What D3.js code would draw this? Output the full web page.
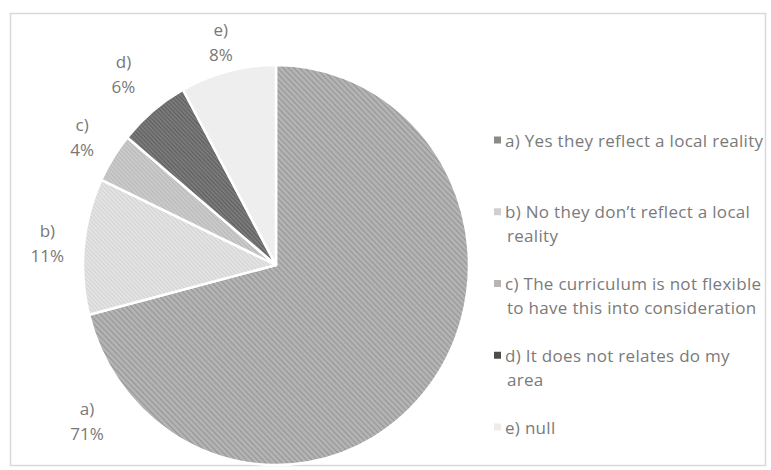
<!DOCTYPE html>
<html>
<head>
<meta charset="utf-8">
<script src="https://cdn.jsdelivr.net/npm/d3@7"></script>
<style>
  html, body { margin: 0; padding: 0; background: #fff; }
  svg { display: block; }
  text { font-family: "Open Sans", sans-serif; }
</style>
</head>
<body>
<svg id="chart" width="771" height="470"></svg>
<script>
// Survey answers: do the contents reflect a local reality?
const categories = ["a)", "b)", "c)", "d)", "e)"];
const legendLabels = [
  "a) Yes they reflect a local reality",
  "b) No they don\u2019t reflect a local\nreality",
  "c) The curriculum is not flexible\nto have this into consideration",
  "d) It does not relates do my\narea",
  "e) null"
];
const shares = [71, 11, 4, 6, 8];

const width = 771, height = 470;
const svg = d3.select("#chart");

// Hatched fills, one per answer
const defs = svg.append("defs");
const fills = [
  { id: "pa", base: "#b3b3b3", line: "#878787", size: 4, w: 1.4 },
  { id: "pb", base: "#e3e3e3", line: "#c4c4c4", size: 3, w: 1 },
  { id: "pc", base: "#cacaca", line: "#a9a9a9", size: 3, w: 1 },
  { id: "pd", base: "#7a7a7a", line: "#4d4d4d", size: 3, w: 1.2 },
  { id: "pe", base: "#efefef", line: "#e8e8e8", size: 3, w: 0.8 }
];
fills.forEach(f => {
  const p = defs.append("pattern")
    .attr("id", f.id)
    .attr("patternUnits", "userSpaceOnUse")
    .attr("width", f.size).attr("height", f.size)
    .attr("patternTransform", "rotate(-45)");
  p.append("rect").attr("width", f.size).attr("height", f.size).attr("fill", f.base);
  p.append("line").attr("x1", 0).attr("y1", 0).attr("x2", 0).attr("y2", f.size)
    .attr("stroke", f.line).attr("stroke-width", f.w);
});

// Chart frame
svg.append("rect")
  .attr("x", 10.5).attr("y", 13.5)
  .attr("width", 755).attr("height", 452)
  .attr("fill", "none").attr("stroke", "#d9d9d9").attr("stroke-width", 1.5);

// Pie geometry (slightly taller than wide)
const cx = 276, cy = 265, rx = 193, ry = 200;
const pie = d3.pie().sort(null).value(d => d)(shares);
const arc = d3.arc().innerRadius(0).outerRadius(ry);

const pieG = svg.append("g")
  .attr("transform", `translate(${cx},${cy}) scale(${rx / ry},1)`);

pieG.selectAll("path")
  .data(pie)
  .join("path")
  .attr("d", arc)
  .attr("fill", (d, i) => `url(#${fills[i].id})`)
  .attr("stroke", "#ffffff")
  .attr("stroke-width", 2.5)
  .attr("stroke-linejoin", "round")
  .attr("vector-effect", "non-scaling-stroke");

// Data labels outside the pie; the large slice puts its label near its trailing edge
const labelAngle = d => d.index === 0 ? d.endAngle - 0.42 : (d.startAngle + d.endAngle) / 2;
const labelFactor = [1.25, 1.19, 1.19, 1.24, 1.15];

const labels = svg.append("g").selectAll("g")
  .data(pie)
  .join("g")
  .attr("transform", d => {
    const a = labelAngle(d), k = labelFactor[d.index];
    return `translate(${cx + Math.sin(a) * rx * k},${cy - Math.cos(a) * ry * k})`;
  });

labels.append("text")
  .attr("text-anchor", "middle")
  .attr("dominant-baseline", "central")
  .attr("y", -12.5)
  .attr("font-size", 17)
  .attr("fill", "#787878")
  .text((d, i) => categories[i]);

labels.append("text")
  .attr("text-anchor", "middle")
  .attr("dominant-baseline", "central")
  .attr("y", 12.5)
  .attr("font-size", 17)
  .attr("fill", "#787878")
  .text(d => d3.format(".0f")(d.data) + "%");

// Legend
const legendColors = ["#8a8a8a", "#cfcfcf", "#b5b5b5", "#4d4d4d", "#ececec"];
const legendY = d3.scalePoint().domain(d3.range(legendLabels.length)).range([140, 427]);

const legend = svg.append("g").selectAll("g")
  .data(legendLabels)
  .join("g")
  .attr("transform", (d, i) => `translate(494,${legendY(i)})`);

legend.append("rect")
  .attr("x", 0).attr("y", -3.5)
  .attr("width", 7).attr("height", 7)
  .attr("fill", (d, i) => legendColors[i]);

legend.append("text")
  .attr("font-size", 17)
  .attr("letter-spacing", 0.3)
  .attr("fill", "#7a7a7a")
  .selectAll("tspan")
  .data(d => d.split("\n"))
  .join("tspan")
  .attr("x", (d, i) => i === 0 ? 11 : 13)
  .attr("y", (d, i) => i * 24)
  .attr("dominant-baseline", "central")
  .text(d => d);
</script>
</body>
</html>
